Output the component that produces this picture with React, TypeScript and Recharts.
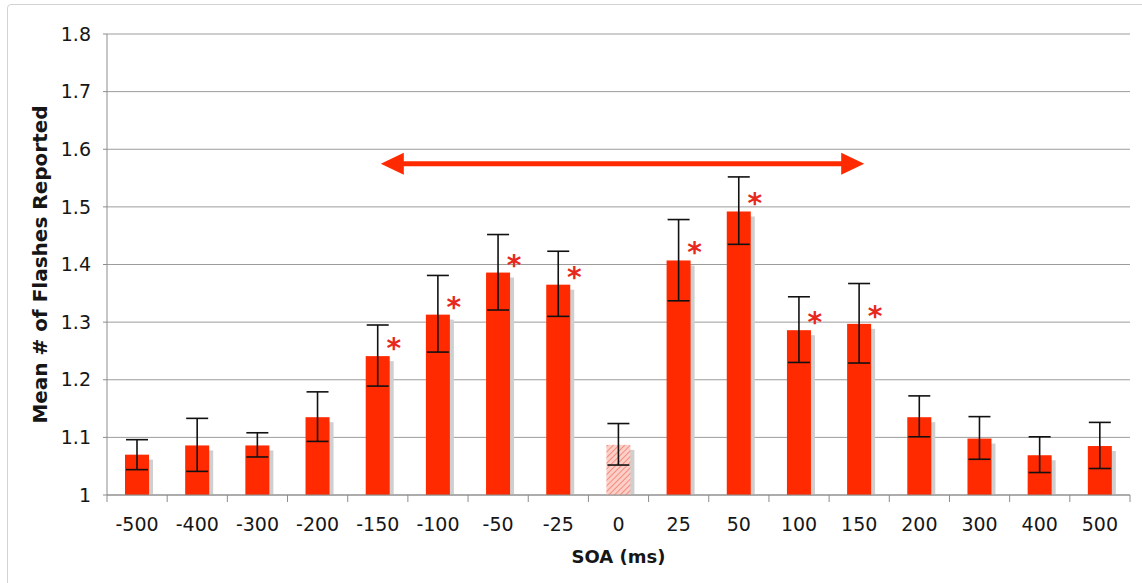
import React from "react";
import {
  BarChart,
  Bar,
  XAxis,
  YAxis,
  CartesianGrid,
  ErrorBar,
  LabelList,
  ReferenceLine,
  Label,
} from "recharts";

// SOA conditions (ms)
const soa = ["-500", "-400", "-300", "-200", "-150", "-100", "-50", "-25", "0", "25", "50", "100", "150", "200", "300", "400", "500"];
const meanFlashes = [1.07, 1.086, 1.086, 1.135, 1.241, 1.313, 1.386, 1.365, 1.087, 1.407, 1.492, 1.286, 1.297, 1.135, 1.098, 1.069, 1.085];
const errLow = [0.026, 0.045, 0.02, 0.042, 0.052, 0.065, 0.065, 0.055, 0.035, 0.07, 0.057, 0.056, 0.068, 0.034, 0.036, 0.03, 0.039];
const errHigh = [0.026, 0.047, 0.022, 0.044, 0.054, 0.068, 0.066, 0.058, 0.037, 0.071, 0.06, 0.058, 0.07, 0.037, 0.038, 0.032, 0.041];
const significant = [false, false, false, false, true, true, true, true, false, true, true, true, true, false, false, false, false];
const yTicks = [1, 1.1, 1.2, 1.3, 1.4, 1.5, 1.6, 1.7, 1.8];
const baselineSoa = "0";
const arrowFrom = "-150";
const arrowTo = "150";
const arrowLevel = 1.575;

const data = soa.map((s, i) => ({
  soa: s,
  mean: meanFlashes[i],
  err: [errLow[i], errHigh[i]],
  sig: significant[i],
}));

const W = 1142;
const H = 583;
const margin = { top: 34, right: 12, left: 47, bottom: 18 };
const Y_W = 60;
const BAND = (W - margin.left - margin.right - Y_W) / soa.length;

const RED = "#ff2a00";
const GRID = "#9c9c9c";
const AXIS = "#8c8c8c";
const TEXT = "#161616";
const FONT = "DejaVu Sans";

const BarShape = (props: any) => {
  const { x, y, width, height, payload } = props;
  const hatched = payload && payload.soa === baselineSoa;
  return (
    <g>
      <defs>
        <pattern id="hatch" patternUnits="userSpaceOnUse" width="4" height="4" patternTransform="rotate(45)">
          <rect width="4" height="4" fill="#fcd0c8" />
          <line x1="0" y1="0" x2="0" y2="4" stroke="#f27a6a" strokeWidth="1.6" />
        </pattern>
      </defs>
      <rect x={x + 4} y={y + 5} width={width} height={Math.max(height - 5, 0)} fill="#cfcfcf" />
      <rect x={x} y={y} width={width} height={height} fill={hatched ? "url(#hatch)" : RED} />
    </g>
  );
};

const renderStar = (props: any) => {
  const { x, y, width, value } = props;
  if (!value) return null;
  return (
    <text
      x={x + width + 4}
      y={y + 2}
      textAnchor="middle"
      fill="#e8281c"
      fontSize={28}
      fontWeight="bold"
      fontFamily={FONT}
    >
      *
    </text>
  );
};

const SoaTick = (props: any) => {
  const { x, y, payload, index } = props;
  const axisY = y - 6;
  const half = BAND / 2;
  return (
    <g>
      <line x1={x - half} x2={x - half} y1={axisY} y2={axisY + 7} stroke={AXIS} />
      {index === soa.length - 1 && (
        <line x1={x + half} x2={x + half} y1={axisY} y2={axisY + 7} stroke={AXIS} />
      )}
      <text x={x} y={axisY + 36} textAnchor="middle" fill={TEXT} fontSize={19} fontFamily={FONT}>
        {payload.value}
      </text>
    </g>
  );
};

const ArrowShape = (props: any) => {
  const { x1, x2, y1 } = props;
  if (x1 == null || x2 == null) return null;
  const a = x1 + 3;
  const b = x2 + 5;
  const head = 23;
  const hh = 11;
  return (
    <g>
      <line x1={a + head - 2} x2={b - head + 2} y1={y1} y2={y1} stroke={RED} strokeWidth={5} />
      <polygon points={`${a},${y1} ${a + head},${y1 - hh} ${a + head},${y1 + hh}`} fill={RED} />
      <polygon points={`${b},${y1} ${b - head},${y1 - hh} ${b - head},${y1 + hh}`} fill={RED} />
    </g>
  );
};

const YTitle = (props: any) => {
  const vb = props.viewBox || {};
  const cy = vb.y + vb.height / 2;
  const cx = 40;
  return (
    <text
      x={cx}
      y={cy}
      transform={`rotate(-90 ${cx} ${cy})`}
      textAnchor="middle"
      dominantBaseline="central"
      fill={TEXT}
      fontSize={20}
      fontWeight="bold"
      fontFamily={FONT}
    >
      Mean # of Flashes Reported
    </text>
  );
};

export default function App() {
  return (
    <div style={{ position: "fixed", left: 0, top: 0, width: W, height: H, overflow: "hidden", background: "#fff", fontFamily: FONT }}>
      <div
        style={{
          position: "absolute",
          left: 7,
          top: 4,
          width: W,
          height: H + 10,
          border: "1px solid #d2d2d2",
          borderRadius: 4,
        }}
      />
      <div style={{ position: "absolute", left: 0, top: 0 }}>
        <BarChart width={W} height={H} data={data} margin={margin} barSize={24}>
          <CartesianGrid vertical={false} stroke={GRID} />
          <XAxis
            dataKey="soa"
            height={70}
            tickLine={false}
            tickSize={6}
            tickMargin={0}
            axisLine={{ stroke: AXIS }}
            tick={<SoaTick />}
            interval={0}
          >
            <Label
              value="SOA (ms)"
              position="insideBottom"
              offset={2}
              style={{ fontSize: 18, fontWeight: "bold", fill: TEXT, fontFamily: FONT }}
            />
          </XAxis>
          <YAxis
            width={Y_W}
            domain={[1, 1.8]}
            ticks={yTicks}
            interval={0}
            tickSize={4}
            tickMargin={12}
            tickLine={{ stroke: AXIS }}
            axisLine={{ stroke: AXIS }}
            tick={{ fill: TEXT, fontSize: 19, fontFamily: FONT }}
            tickFormatter={(v: number) => (v === 1 ? "1" : v.toFixed(1))}
            label={<YTitle />}
          />
          <YAxis
            yAxisId="frame"
            orientation="right"
            width={0}
            domain={[1, 1.8]}
            tick={false}
            tickLine={false}
            axisLine={{ stroke: AXIS }}
          />
          <ReferenceLine
            segment={[
              { x: arrowFrom, y: arrowLevel },
              { x: arrowTo, y: arrowLevel },
            ]}
            shape={<ArrowShape />}
            ifOverflow="visible"
          />
          <Bar dataKey="mean" shape={<BarShape />} isAnimationActive={false}>
            <ErrorBar dataKey="err" direction="y" width={11} stroke="#111" strokeWidth={1.6} isAnimationActive={false} />
            <LabelList dataKey="sig" content={renderStar} />
          </Bar>
        </BarChart>
      </div>
    </div>
  );
}
